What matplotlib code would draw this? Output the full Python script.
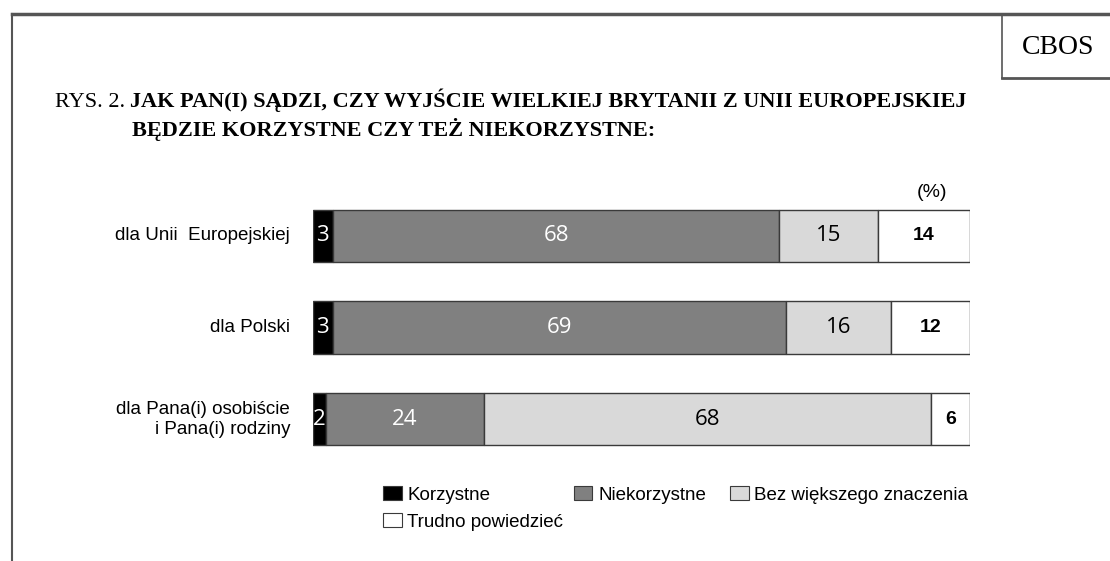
import matplotlib
matplotlib.use("Agg")
import matplotlib.pyplot as plt
from matplotlib.lines import Line2D
from matplotlib.patches import Patch
import numpy as np

categories = ["dla Unii  Europejskiej", "dla Polski", "dla Pana(i) osobiście\ni Pana(i) rodziny"]
series_names = ["Korzystne", "Niekorzystne", "Bez większego znaczenia", "Trudno powiedzieć"]
korzystne = [3, 3, 2]
niekorzystne = [68, 69, 24]
bez_znaczenia = [15, 16, 68]
trudno = [14, 12, 6]
series = [korzystne, niekorzystne, bez_znaczenia, trudno]
colors = ["#000000", "#808080", "#d9d9d9", "#ffffff"]
text_colors = ["white", "white", "black", "black"]

W, H = 1110, 561
fig = plt.figure(figsize=(W / 100, H / 100), dpi=100)
fig.patch.set_facecolor("white")

# axes placement
x0, x1 = 313, 970
ytop, ybot = 190, 465
ax = fig.add_axes([x0 / W, 1 - ybot / H, (x1 - x0) / W, (ybot - ytop) / H])
ax.set_xlim(0, 100)
ax.set_ylim(2.5, -0.5)
ax.axis("off")

y = np.arange(len(categories))
left = np.zeros(len(categories))
for i, (vals, col) in enumerate(zip(series, colors)):
    ax.barh(y, vals, left=left, height=0.57, color=col, edgecolor="#3a3a3a", linewidth=1.0)
    for j, v in enumerate(vals):
        cx = left[j] + v / 2
        if i == 3:
            ax.text(cx, j, str(v), ha="center", va="center", color="black",
                    fontsize=14, family="Liberation Sans", fontweight="bold")
        else:
            ax.text(cx, j, str(v), ha="center", va="center", color=text_colors[i],
                    fontsize=16, family="Open Sans")
    left += np.array(vals)

for j, c in enumerate(categories):
    ax.text(-3.5, j, c, ha="right", va="center", fontsize=13.5, family="Liberation Sans",
            linespacing=1.25)

ax.text(94.2, -0.47, "(%)", ha="center", va="center", fontsize=14, family="Liberation Sans")

# title
fig.text(55 / W, 1 - 107 / H, "RYS. 2.", ha="left", va="baseline", fontsize=16,
         family="Liberation Serif")
fig.text(130 / W, 1 - 107 / H, "JAK PAN(I) SĄDZI, CZY WYJŚCIE WIELKIEJ BRYTANII Z UNII EUROPEJSKIEJ",
         ha="left", va="baseline", fontsize=16, family="Liberation Serif", fontweight="bold")
fig.text(132 / W, 1 - 136 / H, "BĘDZIE KORZYSTNE CZY TEŻ NIEKORZYSTNE:",
         ha="left", va="baseline", fontsize=16, family="Liberation Serif", fontweight="bold")

fig.text(1058 / W, 1 - 48 / H, "CBOS", ha="center", va="center", fontsize=20,
         family="Liberation Serif")

# frame lines
def pline(xs, ys, lw, color="#555555"):
    fig.add_artist(Line2D([x / W for x in xs], [1 - v / H for v in ys], lw=lw, color=color,
                          transform=fig.transFigure))

pline([12, W], [14, 14], 2.5)
pline([12, 12], [14, H], 1.5)
pline([1002, 1002], [14, 78], 1.2)
pline([1002, W], [78, 78], 2.0)

# legend
handles = [Patch(facecolor=c, edgecolor="#3a3a3a", linewidth=0.8) for c in colors]
leg_kw = dict(frameon=False, prop={"family": "Liberation Sans", "size": 13.5},
              handlelength=1.0, handleheight=0.8, handletextpad=0.3,
              columnspacing=0.55, labelspacing=0.5, borderaxespad=0, borderpad=0)
order1 = [0, 3, 1]
fig.legend([handles[k] for k in order1], [series_names[k] for k in order1],
           ncol=2, loc="upper left", bbox_to_anchor=(383 / W, 1 - 486 / H), **leg_kw)
fig.legend([handles[2]], [series_names[2]],
           ncol=1, loc="upper left", bbox_to_anchor=(730 / W, 1 - 486 / H), **leg_kw)

fig.savefig("out.png", dpi=100)
